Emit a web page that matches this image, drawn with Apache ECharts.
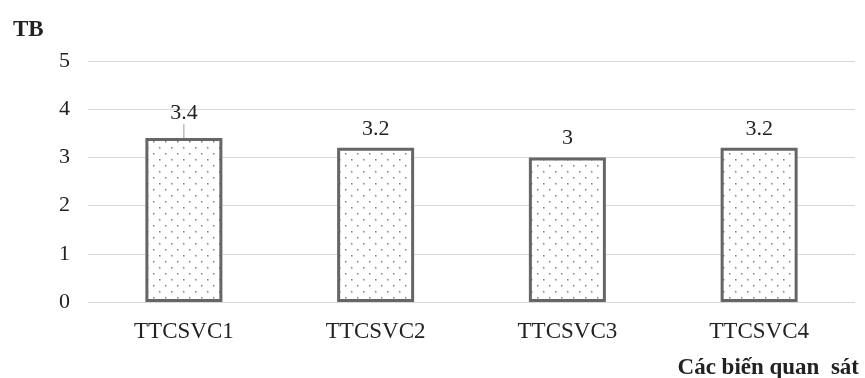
<!DOCTYPE html>
<html>
<head>
<meta charset="utf-8">
<script src="https://cdn.jsdelivr.net/npm/echarts@6/dist/echarts.min.js"></script>
<style>
  html, body { margin: 0; padding: 0; background: #fff; }
  #main { width: 865px; height: 378px; }
</style>
</head>
<body>
<div id="main"></div>
<script>
  var categories = ['TTCSVC1', 'TTCSVC2', 'TTCSVC3', 'TTCSVC4']
  var values = [3.4, 3.2, 3, 3.2]
  var yTicks = [0, 1, 2, 3, 4, 5]

  // dotted fill like the original
  var pat = document.createElement('canvas')
  pat.width = 12
  pat.height = 12
  var ctx = pat.getContext('2d')
  ctx.fillStyle = '#fff'
  ctx.fillRect(0, 0, 12, 12)
  ctx.fillStyle = '#808080'
  ctx.fillRect(3, 3, 1.5, 1.5)
  ctx.fillRect(9, 9, 1.5, 1.5)

  var font = '"Liberation Serif", "DejaVu Serif", serif'
  var chart = echarts.init(document.getElementById('main'))
  chart.setOption({
    backgroundColor: '#fff',
    animation: false,
    title: [{
      text: 'TB',
      left: 8,
      top: 14,
      textStyle: { fontFamily: font, fontWeight: 'bold', fontSize: 23, color: '#222' }
    }, {
      text: 'Các biến quan  sát',
      right: 1,
      top: 352,
      textStyle: { fontFamily: font, fontWeight: 'bold', fontSize: 23, color: '#222' }
    }],
    grid: { left: 88, right: 10, top: 61, bottom: 76 },
    xAxis: {
      type: 'category',
      data: categories,
      axisLine: { show: false },
      axisTick: { show: false },
      axisLabel: { margin: 18, fontFamily: font, fontSize: 23, color: '#222' }
    },
    yAxis: {
      type: 'value',
      min: yTicks[0],
      max: yTicks[yTicks.length - 1],
      interval: 1,
      axisLine: { show: false },
      axisTick: { show: false },
      axisLabel: { margin: 18, fontFamily: font, fontSize: 22, color: '#222' },
      splitLine: { lineStyle: { color: '#d9d9d9', width: 1.2 } }
    },
    series: [{
      type: 'bar',
      data: values.map(function (v, i) {
        return { value: v, labelLine: { show: i === 0 } }
      }),
      barWidth: 77,
      itemStyle: {
        color: { image: pat, repeat: 'repeat' },
        borderColor: '#666',
        borderWidth: 3
      },
      label: {
        show: true,
        position: 'top',
        distance: 8,
        fontFamily: font,
        fontSize: 22,
        color: '#222'
      },
      labelLayout: function (p) {
        return p.dataIndex === 0 ? { dy: -6 } : {}
      },
      labelLine: { show: false, length2: 0, lineStyle: { color: '#999', width: 1 } }
    }]
  })
</script>
</body>
</html>
